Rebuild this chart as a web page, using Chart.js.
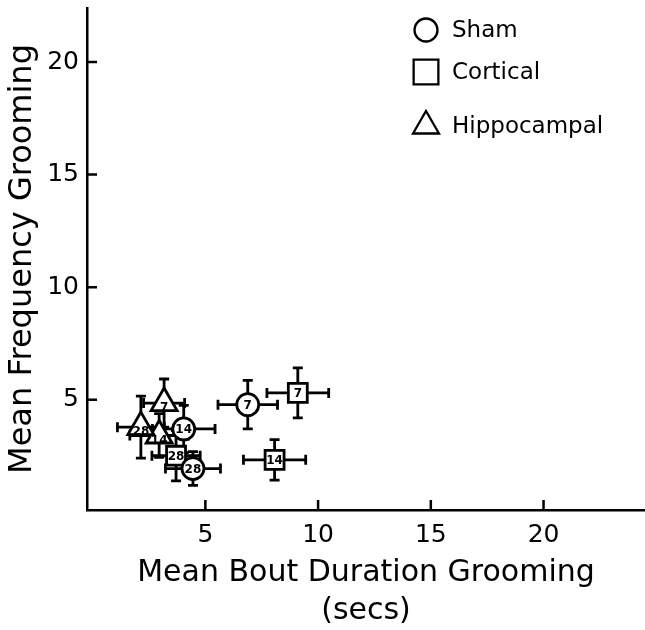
<!DOCTYPE html>
<html>
<head>
<meta charset="utf-8">
<script src="https://cdn.jsdelivr.net/npm/chart.js@4.4.1/dist/chart.umd.min.js"></script>
<style>
  html, body { margin: 0; padding: 0; background: #fff; }
</style>
</head>
<body>
<canvas id="groomChart" width="645" height="630"></canvas>
<script>
// days after lesion, written inside each marker
const dayLabels = ['7', '14', '28'];
const groupNames = ['Sham', 'Cortical', 'Hippocampal'];

const shamX = [6.88, 4.04, 4.45];
const shamY = [4.78, 3.70, 1.94];
const shamXErr = [1.32, 1.39, 1.22];
const shamYErr = [1.08, 1.05, 0.75];

const corticalX = [9.10, 8.07, 3.70];
const corticalY = [5.30, 2.33, 2.51];
const corticalXErr = [1.37, 1.38, 1.07];
const corticalYErr = [1.11, 0.90, 1.12];

const hippoX = [3.17, 2.95, 2.14];
const hippoY = [4.85, 3.41, 3.78];
const hippoXErr = [0.91, 1.30, 1.04];
const hippoYErr = [1.07, 0.97, 1.38];

const xTicks = [5, 10, 15, 20];
const yTicks = [5, 10, 15, 20];

const FONT = '"DejaVu Sans", sans-serif';

function makePoints(xs, ys, xe, ye) {
    return xs.map((x, i) => ({ x: x, y: ys[i], xErr: xe[i], yErr: ye[i], day: dayLabels[i] }));
}

function markerDataset(label, data, style, radius) {
    return {
        label: label,
        data: data,
        pointStyle: style,
        pointRadius: radius,
        pointHoverRadius: radius,
        pointBackgroundColor: '#fff',
        pointBorderColor: '#000',
        pointBorderWidth: 2.8,
        showLine: false
    };
}

function drawMarker(ctx, style, x, y, r) {
    ctx.beginPath();
    if (style === 'circle') {
        ctx.arc(x, y, r, 0, Math.PI * 2);
    } else if (style === 'rect') {
        const s = r * Math.SQRT1_2;
        ctx.rect(x - s, y - s, 2 * s, 2 * s);
    } else {
        ctx.moveTo(x, y - r);
        ctx.lineTo(x + Math.sin(2 * Math.PI / 3) * r, y + r / 2);
        ctx.lineTo(x - Math.sin(2 * Math.PI / 3) * r, y + r / 2);
        ctx.closePath();
    }
    ctx.fillStyle = '#fff';
    ctx.fill();
    ctx.stroke();
}

// no extra room for edge labels: axes meet the canvas edges like the print
function noScalePadding(s) {
    s.paddingTop = 0;
    s.paddingBottom = 0;
    s.paddingLeft = 0;
    s.paddingRight = 0;
}

// error bars go under every marker
const errorBars = {
    id: 'errorBars',
    beforeDatasetsDraw(chart) {
        const ctx = chart.ctx;
        const xs = chart.scales.x, ys = chart.scales.y;
        const cap = 5;
        ctx.save();
        ctx.strokeStyle = '#000';
        ctx.lineWidth = 2.8;
        chart.data.datasets.forEach(ds => {
            ds.data.forEach(p => {
                const cx = xs.getPixelForValue(p.x), cy = ys.getPixelForValue(p.y);
                const x0 = xs.getPixelForValue(p.x - p.xErr), x1 = xs.getPixelForValue(p.x + p.xErr);
                const y0 = ys.getPixelForValue(p.y - p.yErr), y1 = ys.getPixelForValue(p.y + p.yErr);
                ctx.beginPath();
                ctx.moveTo(x0, cy); ctx.lineTo(x1, cy);
                ctx.moveTo(x0, cy - cap); ctx.lineTo(x0, cy + cap);
                ctx.moveTo(x1, cy - cap); ctx.lineTo(x1, cy + cap);
                ctx.moveTo(cx, y0); ctx.lineTo(cx, y1);
                ctx.moveTo(cx - cap, y0); ctx.lineTo(cx + cap, y0);
                ctx.moveTo(cx - cap, y1); ctx.lineTo(cx + cap, y1);
                ctx.stroke();
            });
        });
        ctx.restore();
    },
    afterDatasetDraw(chart, args) {
        const ctx = chart.ctx;
        const ds = chart.data.datasets[args.index];
        const shift = ds.pointStyle === 'triangle' ? 4 : 0;
        ctx.save();
        ctx.fillStyle = '#000';
        ctx.font = 'bold 12px ' + FONT;
        ctx.textAlign = 'center';
        ctx.textBaseline = 'middle';
        args.meta.data.forEach((el, i) => {
            ctx.fillText(ds.data[i].day, el.x, el.y + shift + 1);
        });
        ctx.restore();
    },
    afterDraw(chart) {
        const ctx = chart.ctx;
        const xs = chart.scales.x, ys = chart.scales.y;
        const area = chart.chartArea;
        ctx.save();
        ctx.strokeStyle = '#000';
        ctx.lineWidth = 2.5;
        // inward tick marks
        ctx.beginPath();
        xTicks.forEach(v => {
            const px = xs.getPixelForValue(v);
            ctx.moveTo(px, area.bottom); ctx.lineTo(px, area.bottom - 10);
        });
        yTicks.forEach(v => {
            const py = ys.getPixelForValue(v);
            ctx.moveTo(area.left, py); ctx.lineTo(area.left + 10, py);
        });
        ctx.stroke();

        // legend in the top right corner
        const legendY = [30, 72, 126];
        const legendR = [11.5, 17.5, 15];
        ctx.lineWidth = 2.3;
        ctx.font = '23px ' + FONT;
        ctx.textBaseline = 'middle';
        ctx.textAlign = 'left';
        chart.data.datasets.forEach((ds, i) => {
            drawMarker(ctx, ds.pointStyle, 426, legendY[i], legendR[i]);
            ctx.fillStyle = '#000';
            ctx.fillText(ds.label, 452, legendY[i] + 1);
        });
        ctx.restore();
    }
};

const groomChart = new Chart(document.getElementById('groomChart'), {
    type: 'scatter',
    data: {
        datasets: [
            markerDataset(groupNames[0], makePoints(shamX, shamY, shamXErr, shamYErr), 'circle', 11),
            markerDataset(groupNames[1], makePoints(corticalX, corticalY, corticalXErr, corticalYErr), 'rect', 13.4),
            markerDataset(groupNames[2], makePoints(hippoX, hippoY, hippoXErr, hippoYErr), 'triangle', 15)
        ]
    },
    options: {
        responsive: false,
        devicePixelRatio: 1,
        animation: false,
        layout: { autoPadding: false, padding: { top: 8, right: 0, left: 0, bottom: 0 } },
        plugins: {
            legend: { display: false },
            tooltip: { enabled: false }
        },
        scales: {
            x: {
                type: 'linear',
                min: -0.25,
                max: 24.5,
                afterBuildTicks: s => { s.ticks = xTicks.map(v => ({ value: v })); },
                afterFit: s => { s.height = 120; noScalePadding(s); },
                grid: { display: false, drawTicks: false },
                border: { display: true, color: '#000', width: 2.5 },
                ticks: { color: '#000', padding: 10, maxRotation: 0, font: { family: FONT, size: 25 } },
                title: {
                    display: true,
                    text: ['Mean Bout Duration Grooming', '(secs)'],
                    color: '#000',
                    padding: 0,
                    font: { family: FONT, size: 30, lineHeight: '38px' }
                }
            },
            y: {
                type: 'linear',
                min: 0.1,
                max: 22.4,
                afterBuildTicks: s => { s.ticks = yTicks.map(v => ({ value: v })); },
                afterFit: s => { s.width = 87; noScalePadding(s); },
                grid: { display: false, drawTicks: false },
                border: { display: true, color: '#000', width: 2.5 },
                ticks: { color: '#000', padding: 8, font: { family: FONT, size: 25 } },
                title: {
                    display: true,
                    text: 'Mean Frequency Grooming',
                    color: '#000',
                    padding: { top: 4, bottom: 0 },
                    font: { family: FONT, size: 32, lineHeight: '38px' }
                }
            }
        }
    },
    plugins: [errorBars]
});
</script>
</body>
</html>
